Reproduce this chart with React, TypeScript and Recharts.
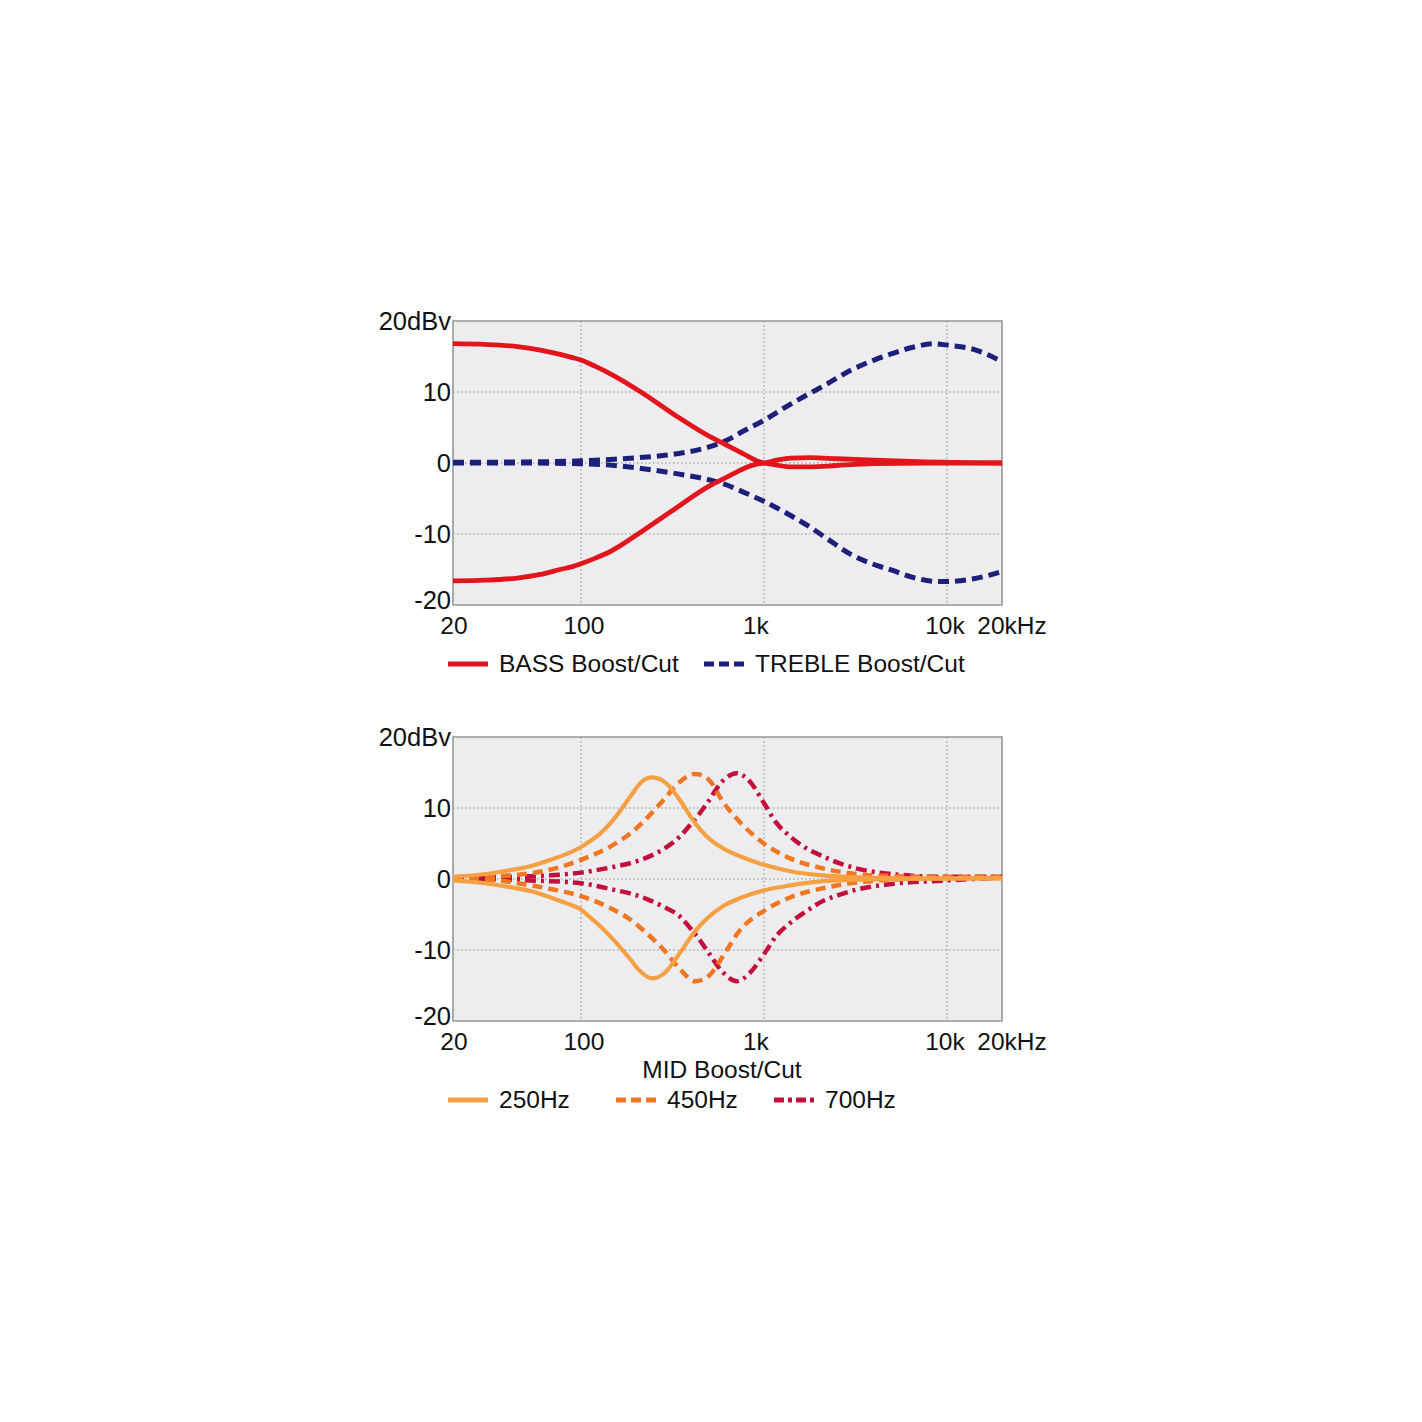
import React from 'react';
import { LineChart, Line, XAxis, YAxis, CartesianGrid, ReferenceArea } from 'recharts';

// ---- axis ticks ----
const freqTicks = [20, 100, 1000, 10000, 20000];
const freqTickLabels = ['20', '100', '1k', '10k', '20kHz'];
const dbTicks = [20, 10, 0, -10, -20];
const dbTickLabels = ['20dBv', '10', '0', '-10', '-20'];

// ---- top chart: [frequency Hz, dB] ----
const bassBoost: [number, number][] = [
  [20, 16.8], [30, 16.7], [45, 16.4], [60, 15.9], [77, 15.3], [90, 14.85], [100, 14.5], [120, 13.6],
  [144, 12.6], [219, 9.8], [333, 6.6], [507, 3.7], [627, 2.5], [773, 1.3], [938, 0.2], [1000, 0],
  [1175, -0.3], [1400, -0.55], [1800, -0.55], [2500, -0.35], [4000, -0.1], [8000, 0], [20000, 0],
];
const bassCut: [number, number][] = [
  [20, -16.6], [30, -16.5], [45, -16.2], [60, -15.7], [77, -15.0], [90, -14.6], [100, -14.2], [120, -13.4],
  [144, -12.5], [219, -9.5], [333, -6.3], [507, -3.2], [627, -2.0], [773, -0.8], [938, -0.1], [1000, 0],
  [1175, 0.4], [1400, 0.7], [1800, 0.75], [2500, 0.6], [4000, 0.4], [7000, 0.2], [20000, 0],
];
const trebleBoost: [number, number][] = [
  [20, 0.1], [50, 0.15], [100, 0.3], [144, 0.5], [219, 0.8], [333, 1.3], [507, 2.3], [627, 3.2],
  [773, 4.5], [1000, 6.0], [1400, 8.3], [1780, 9.8], [2200, 11.1], [3000, 13.1], [4000, 14.5],
  [5000, 15.4], [6500, 16.3], [8500, 16.8], [10000, 16.6], [14000, 16.0], [20000, 14.3],
];
const trebleCut: [number, number][] = [
  [20, 0], [50, 0], [100, -0.1], [144, -0.3], [219, -0.8], [333, -1.5], [507, -2.4], [627, -3.1],
  [773, -4.1], [1000, -5.4], [1400, -7.4], [1780, -9.0], [2200, -10.6], [3000, -12.9], [4000, -14.3],
  [5000, -15.1], [6500, -16.1], [9000, -16.7], [10000, -16.7], [14000, -16.3], [20000, -15.3],
];

// ---- bottom chart: [frequency Hz, dB] ----
const mid250Boost: [number, number][] = [
  [20, 0.3], [30, 0.7], [40, 1.2], [53, 1.8], [70, 2.8], [85, 3.6], [100, 4.5], [110, 5.2], [122, 6.0],
  [150, 8.3], [186, 11.6], [211, 13.5], [244, 14.3], [282, 13.8], [348, 11.1], [395, 8.9], [429, 7.6],
  [487, 6.0], [600, 4.3], [740, 3.2], [1000, 2.0], [1390, 1.1], [2100, 0.5], [3200, 0.25],
  [6000, 0.1], [20000, 0.1],
];
const mid250Cut: [number, number][] = [
  [20, -0.2], [30, -0.6], [40, -1.1], [53, -1.7], [70, -2.7], [85, -3.5], [100, -4.3], [110, -5.2], [122, -6.2],
  [150, -8.5], [186, -11.3], [211, -13.0], [244, -14.0], [282, -13.4], [348, -10.4], [395, -8.3], [429, -7.1],
  [487, -5.6], [600, -3.8], [740, -2.7], [1000, -1.6], [1390, -0.9], [2100, -0.3], [3200, -0.1],
  [6000, 0], [20000, 0.1],
];
const mid450Boost: [number, number][] = [
  [20, 0.2], [35, 0.4], [53, 0.8], [75, 1.6], [100, 2.7], [150, 4.8], [186, 6.4], [228, 8.5],
  [282, 11.1], [348, 13.7], [420, 14.8], [470, 14.5], [507, 13.8], [600, 10.8], [740, 8.0],
  [1000, 5.0], [1390, 2.9], [2100, 1.5], [3200, 0.7], [5000, 0.4], [10000, 0.3], [20000, 0.3],
];
const mid450Cut: [number, number][] = [
  [20, 0.1], [35, -0.2], [53, -0.9], [75, -1.6], [100, -2.4], [150, -4.3], [186, -5.7], [228, -7.6],
  [282, -9.9], [348, -12.7], [420, -14.4], [470, -14.1], [507, -13.5], [600, -10.8], [740, -7.2],
  [1000, -4.5], [1390, -2.6], [2100, -1.3], [3200, -0.5], [5000, -0.1], [10000, 0.2], [20000, 0.3],
];
const mid700Boost: [number, number][] = [
  [20, 0.2], [53, 0.4], [100, 0.9], [150, 1.7], [190, 2.3], [228, 3.0], [282, 4.2], [348, 6.0], [395, 7.6],
  [429, 8.7], [487, 10.6], [600, 13.9], [710, 14.9], [840, 13.7], [1000, 10.7], [1170, 7.9],
  [1390, 6.0], [1710, 4.3], [2100, 3.2], [2600, 2.2], [3200, 1.5], [5000, 0.7], [10000, 0.3],
  [20000, 0.3],
];
const mid700Cut: [number, number][] = [
  [20, 0.1], [53, -0.2], [100, -0.6], [150, -1.5], [190, -2.1], [228, -2.8], [282, -3.9], [348, -5.3], [395, -6.9],
  [429, -8.0], [487, -10.0], [600, -13.2], [710, -14.4], [840, -13.2], [1000, -10.6], [1170, -8.0],
  [1390, -6.2], [1710, -4.5], [2100, -3.1], [2600, -2.2], [3200, -1.5], [5000, -0.7], [10000, -0.2],
  [20000, 0.2],
];

const toPts = (arr: [number, number][]) => arr.map(([f, db]) => ({ f, db }));

const FONT = '"Liberation Sans", Arial, Helvetica, sans-serif';
const FS = 24.5;

const C_BASS = '#E2141C';
const C_TREBLE = '#1C2078';
const C_250 = '#F5A042';
const C_450 = '#F07622';
const C_700 = '#C3103A';

const renderXTick = (props: any) => {
  const { x, y, payload } = props;
  const i = freqTicks.indexOf(payload.value);
  const dx = [1, 3, -8, -2, 10][i] ?? 0;
  return (
    <text key={`xt-${i}`} x={x + dx} y={y + 29} textAnchor="middle" fontSize={FS} fontFamily={FONT} fill="#111">
      {freqTickLabels[i]}
    </text>
  );
};

const renderYTick = (props: any) => {
  const { x, y, payload } = props;
  const i = dbTicks.indexOf(payload.value);
  const dy = i === dbTicks.length - 1 ? 4 : 9;
  return (
    <text key={`yt-${i}`} x={x - 2} y={y + dy} textAnchor="end" fontSize={25.5} fontFamily={FONT} fill="#111">
      {dbTickLabels[i]}
    </text>
  );
};

const series = (data: [number, number][], color: string, width: number, dash: string | undefined, key: string) => (
  <Line
    key={key}
    data={toPts(data)}
    dataKey="db"
    type="monotoneX"
    stroke={color}
    strokeWidth={width}
    strokeDasharray={dash}
    dot={false}
    activeDot={false}
    isAnimationActive={false}
    strokeLinecap="butt"
    strokeLinejoin="round"
  />
);

const Panel = ({ children }: { children: React.ReactNode }) => (
  <LineChart width={1422} height={680} margin={{ top: 321, left: 393, right: 420, bottom: 35 }}>
    <CartesianGrid stroke="#8c8c8c" strokeDasharray="1.5 2.5" strokeWidth={1} fill="#EDEDF0" fillOpacity={1} />
    <XAxis
      dataKey="f"
      type="number"
      scale="log"
      domain={[20, 20000]}
      ticks={freqTicks}
      allowDataOverflow
      height={40}
      tickSize={0}
      tickMargin={0}
      axisLine={false}
      tickLine={false}
      tick={renderXTick}
      interval={0}
    />
    <YAxis
      dataKey="db"
      type="number"
      domain={[-20, 20]}
      ticks={dbTicks}
      allowDataOverflow
      width={60}
      tickSize={0}
      tickMargin={0}
      axisLine={false}
      tickLine={false}
      tick={renderYTick}
      interval={0}
    />
    <ReferenceArea x1={20} x2={20000} y1={-20} y2={20} fill="none" fillOpacity={0} stroke="#9c9c9c" strokeWidth={1.6} ifOverflow="visible" />
    {children}
  </LineChart>
);

const LegendItem = ({ left, top, color, dash, label, width = 5 }: any) => (
  <div style={{ position: 'absolute', left, top, height: 30, display: 'flex', alignItems: 'center' }}>
    <svg width={42} height={10} style={{ display: 'block' }}>
      <line x1={0} y1={5} x2={40} y2={5} stroke={color} strokeWidth={width} strokeDasharray={dash} />
    </svg>
    <span style={{ marginLeft: 9, fontSize: FS, fontFamily: FONT, color: '#111', lineHeight: '30px', whiteSpace: 'nowrap' }}>{label}</span>
  </div>
);

export default function App() {
  return (
    <div style={{ position: 'absolute', left: 0, top: 0, width: 1422, height: 1422, background: '#fff' }}>
      <div style={{ position: 'absolute', left: 0, top: 0 }}>
        <Panel>
          {series(trebleBoost, C_TREBLE, 5, '11 6', 'tb')}
          {series(trebleCut, C_TREBLE, 5, '11 6', 'tc')}
          {series(bassBoost, C_BASS, 4.8, undefined, 'bb')}
          {series(bassCut, C_BASS, 4.8, undefined, 'bc')}
        </Panel>
      </div>
      <div style={{ position: 'absolute', left: 0, top: 416 }}>
        <Panel>
          {series(mid700Boost, C_700, 4.5, '11 5 3 5', 'm7b')}
          {series(mid700Cut, C_700, 4.5, '11 5 3 5', 'm7c')}
          {series(mid450Boost, C_450, 4.5, '10 6', 'm4b')}
          {series(mid450Cut, C_450, 4.5, '10 6', 'm4c')}
          {series(mid250Boost, C_250, 4.2, undefined, 'm2b')}
          {series(mid250Cut, C_250, 4.2, undefined, 'm2c')}
        </Panel>
      </div>
      <LegendItem left={448} top={649} color={C_BASS} label="BASS Boost/Cut" />
      <LegendItem left={704} top={649} color={C_TREBLE} dash="10 5" label="TREBLE Boost/Cut" />
      <div style={{ position: 'absolute', left: 522, width: 400, top: 1055, textAlign: 'center', fontSize: FS, fontFamily: FONT, color: '#111', lineHeight: '30px' }}>
        MID Boost/Cut
      </div>
      <LegendItem left={448} top={1085} color={C_250} label="250Hz" />
      <LegendItem left={616} top={1085} color={C_450} dash="10 5" label="450Hz" />
      <LegendItem left={774} top={1085} color={C_700} dash="10 4 4 4" label="700Hz" />
    </div>
  );
}
